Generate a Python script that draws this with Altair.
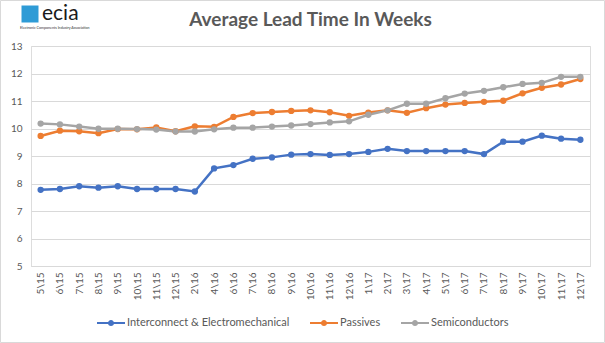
import altair as alt
import pandas as pd

months = ["5\\15", "6\\15", "7\\15", "8\\15", "9\\15", "10\\15", "11\\15", "12\\15",
          "2\\16", "4\\16", "6\\16", "7\\16", "8\\16", "9\\16", "10\\16", "11\\16", "12\\16",
          "1\\17", "2\\17", "3\\17", "4\\17", "5\\17", "6\\17", "7\\17", "8\\17", "9\\17",
          "10\\17", "11\\17", "12\\17"]

interconnect = [7.77, 7.80, 7.90, 7.85, 7.90, 7.80, 7.80, 7.80,
                7.71, 8.55, 8.67, 8.90, 8.95, 9.05, 9.07, 9.04, 9.07,
                9.15, 9.26, 9.18, 9.18, 9.18, 9.18, 9.07, 9.52, 9.52,
                9.74, 9.63, 9.59]
passives = [9.73, 9.92, 9.90, 9.83, 9.98, 9.97, 10.04, 9.90,
            10.08, 10.06, 10.42, 10.56, 10.60, 10.64, 10.66, 10.59, 10.46,
            10.58, 10.66, 10.57, 10.74, 10.87, 10.93, 10.97, 11.01, 11.28,
            11.48, 11.60, 11.80]
semis = [10.18, 10.15, 10.07, 9.99, 9.99, 9.98, 9.96, 9.89,
         9.89, 9.97, 10.03, 10.03, 10.07, 10.11, 10.16, 10.22, 10.26,
         10.50, 10.66, 10.90, 10.90, 11.10, 11.27, 11.37, 11.50, 11.62,
         11.66, 11.88, 11.88]

series_names = ["Interconnect & Electromechanical", "Passives", "Semiconductors"]
series_colors = ["#4472C4", "#ED7D31", "#A5A5A5"]
y_ticks = [5, 6, 7, 8, 9, 10, 11, 12, 13]
title_text = "Average Lead Time In Weeks"

rows = []
for name, vals in zip(series_names, [interconnect, passives, semis]):
    for i, (m, v) in enumerate(zip(months, vals)):
        rows.append({"month": m, "series": name, "weeks": v, "order": i})
df = pd.DataFrame(rows)

FONT = "Lato"
TXT = "#595959"

legend_symbol = ("M-1,-0.08 L1,-0.08 L1,0.08 L-1,0.08 Z "
                 "M0.22,0 A0.22,0.22 0 1,1 -0.22,0 A0.22,0.22 0 1,1 0.22,0 Z")

x_enc = alt.X("month:N", sort=months, title=None,
              scale=alt.Scale(paddingInner=1, paddingOuter=0.5),
              axis=alt.Axis(labelAngle=-90, labelFontSize=10, labelColor=TXT, labelFont=FONT,
                            ticks=False, domain=True, domainColor="#D9D9D9", labelPadding=6,
                            grid=False, labelOverlap=False))
y_enc = alt.Y("weeks:Q", title=None,
              scale=alt.Scale(domain=[5, 13], nice=False, zero=False),
              axis=alt.Axis(values=y_ticks, tickCount=9, labelFontSize=10, labelColor=TXT,
                            labelFont=FONT, ticks=False, domain=False, gridColor="#D9D9D9",
                            labelPadding=9, labelOverlap=False))
color_enc = alt.Color("series:N", sort=series_names,
                      scale=alt.Scale(domain=series_names, range=series_colors),
                      legend=alt.Legend(title=None, orient="none", direction="horizontal",
                                        legendX=66, legendY=263,
                                        symbolType=legend_symbol, symbolSize=784,
                                        symbolStrokeWidth=0, labelFontSize=11,
                                        labelColor=TXT, labelFont=FONT, columnPadding=20,
                                        labelOffset=2, labelLimit=400))

base = alt.Chart(df).encode(x=x_enc, y=y_enc, color=color_enc)
lines = base.mark_line(strokeWidth=2.5).encode(order="order:Q")
points = base.mark_point(filled=True, size=40, opacity=1)

deco = pd.DataFrame({"k": [0]})
border = alt.Chart(deco).mark_rect(fill=None, stroke="#D9D9D9", strokeWidth=1).encode(
    x=alt.value(-30.5), x2=alt.value(573.5), y=alt.value(-45.5), y2=alt.value(296.5))
icon = alt.Chart(deco).mark_square(color="#2E9BD6", size=289, opacity=1).encode(
    x=alt.value(-1), y=alt.value(-32))
logo = alt.Chart(deco).mark_text(text="ecia", font=FONT, fontSize=21, color="#1A1A1A",
                                 align="left", baseline="alphabetic").encode(
    x=alt.value(11), y=alt.value(-26))
logo_sub = alt.Chart(deco).mark_text(text="Electronic Components Industry Association",
                                     font=FONT, fontSize=3.6, color="#333333",
                                     align="left", baseline="alphabetic").encode(
    x=alt.value(-11), y=alt.value(-17))
title = alt.Chart(deco).mark_text(text=title_text, font=FONT, fontSize=19, fontWeight="bold",
                                  color=TXT, align="center", baseline="middle").encode(
    x=alt.value(279.5), y=alt.value(-26))

chart = alt.layer(border, lines, points, icon, logo, logo_sub, title).properties(
    width=559, height=220,
    autosize=alt.AutoSizeParams(type="none"),
    padding={"left": 31, "top": 46, "right": 15, "bottom": 77},
).configure_view(stroke=None).configure(background="white")

chart.save("out.html", embed_options={"renderer": "svg", "actions": False})
